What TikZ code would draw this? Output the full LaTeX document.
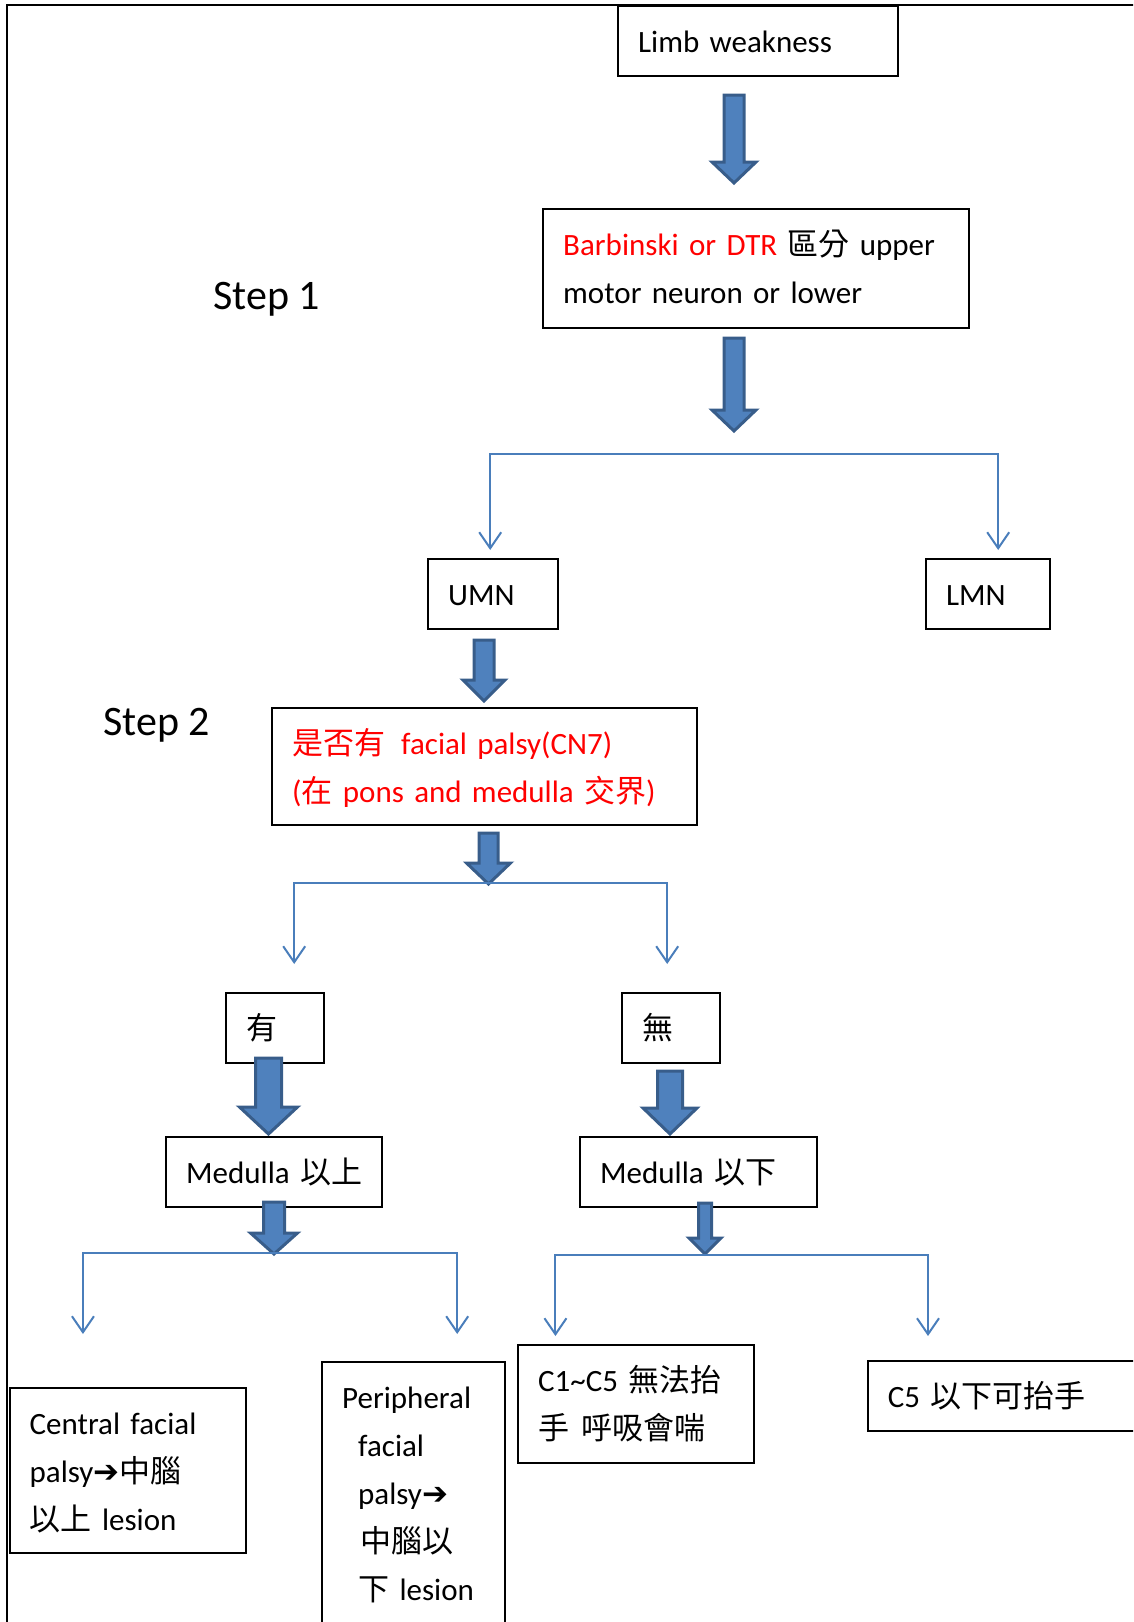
\documentclass[tikz,border=0pt]{standalone}
\usepackage{fontspec}
\setmainfont{Carlito}
\newfontfamily\cjk{Noto Sans CJK TC}
\newfontfamily\dejavu{DejaVu Sans}
\usetikzlibrary{arrows.meta}
\definecolor{kek}{HTML}{4F81BD}
\definecolor{sotetkek}{HTML}{385D8A}
\definecolor{vonalkek}{HTML}{4A7EBB}
\newcommand{\zh}[1]{{\cjk #1}}
\newcommand{\nyilacska}{{\dejavu\bfseries ➔}}
\newcommand{\vastagnyil}[6]{\draw[tomor] (#1-#5,#2) -- (#1+#5,#2) -- (#1+#5,#3) -- (#1+#6,#3) -- (#1,#4) -- (#1-#6,#3) -- (#1-#5,#3) -- cycle;}

\begin{document}
\begin{tikzpicture}[x=1pt,y=-1pt,
doboz/.style={rectangle,draw=black,line width=2.4pt,anchor=north west,inner xsep=20pt,inner ysep=0pt,align=left,text height=46pt,text depth=24pt,font=\fontsize{31}{48}\selectfont},
lepes/.style={anchor=base west,inner sep=0pt,font=\fontsize{42}{50}\selectfont},
tomor/.style={fill=kek,draw=sotetkek,line width=3pt,line join=miter},
vekony/.style={draw=vonalkek,line width=2pt,-{Straight Barb[length=16pt,width=22pt]}}]

\useasboundingbox (0,0) rectangle (1133,1622);
\clip (0,0) rectangle (1133,1622);
\draw[line width=2.5pt] (7,1700) -- (7,5) -- (1200,5);

\node[doboz,text width=240pt](limb) at (617,5){Limb~weakness};
\node[doboz,text width=386pt,text depth=73pt](barb) at (542,208){{\color{red}Barbinski~or~DTR}~\zh{區分}~upper\\motor~neuron~or~lower};
\node[lepes](lepes1) at (213,309){Step 1};

\node[doboz,text width=90pt](umn) at (427,558){UMN};
\node[doboz,text width=84pt](lmn) at (925,558){LMN};

\node[lepes](lepes2) at (103,735){Step 2};
\node[doboz,text width=385pt,text=red,text depth=71pt](arc) at (271,707){\zh{是否有}\hspace{16pt}facial~palsy(CN7)\\(\zh{在}~pons~and~medulla~\zh{交界})};

\node[doboz,text width=58pt](van) at (225,992){\zh{有}};
\node[doboz,text width=58pt](nincs) at (621,992){\zh{無}};

\node[doboz,text width=176pt](felett) at (165,1136){Medulla~\zh{以上}};
\node[doboz,text width=197pt](alatt) at (579,1136){Medulla~\zh{以下}};

\node[doboz,text width=196pt,text depth=119pt](kozponti) at (8.5,1387){Central~facial\\palsy\nyilacska\zh{中腦}\\\zh{以上}~lesion};
\node[doboz,text width=143pt,text depth=233pt](perifer) at (321,1361){Peripheral\\\hspace*{16pt}facial\\\hspace*{16pt}palsy\nyilacska\\\hspace*{18pt}\zh{中腦以}\\\hspace*{16pt}\zh{下}~lesion};
\node[doboz,text width=196pt,text depth=72pt](c1) at (517,1344){C1\textasciitilde C5~\zh{無法抬}\\\zh{手}\hspace{12pt}\zh{呼吸會喘}};
\node[doboz,text width=240pt](c5) at (866.6,1360){C5~\zh{以下可抬手}};

\vastagnyil{734}{95}{162}{183}{10}{22}
\vastagnyil{734}{338}{410}{431}{10}{22}
\vastagnyil{484}{640}{680}{701}{10}{21}
\vastagnyil{488.5}{833}{863}{884}{9.5}{22}
\vastagnyil{268.5}{1058}{1107}{1134}{13}{29}
\vastagnyil{670}{1071}{1108}{1134}{12.5}{27}
\vastagnyil{274}{1202}{1233}{1254}{10.5}{23.5}
\vastagnyil{705}{1203}{1238}{1254}{6.5}{16}

\coordinate (ag1) at (734,454);
\coordinate (ag2) at (488.5,883);
\coordinate (ag3) at (274,1253);
\coordinate (ag4) at (705,1255);

\begin{scope}[vekony]
\draw (ag1) -| ([xshift=-3pt,yshift=8pt]umn.north);
\draw (ag1) -| ([xshift=10pt,yshift=8pt]lmn.north);
\draw (ag2) -| ([xshift=19pt,yshift=28pt]van.north);
\draw (ag2) -| ([xshift=-4pt,yshift=28pt]nincs.north);
\draw (ag3) -| ([xshift=-44.75pt,yshift=53pt]kozponti.north);
\draw (ag3) -| ([xshift=43.5pt,yshift=27pt]perifer.north);
\draw (ag4) -| ([xshift=-80.75pt,yshift=8pt]c1.north);
\draw (ag4) -| ([xshift=61.4pt,yshift=24pt]c5.north west);
\end{scope}
\end{tikzpicture}
\end{document}
